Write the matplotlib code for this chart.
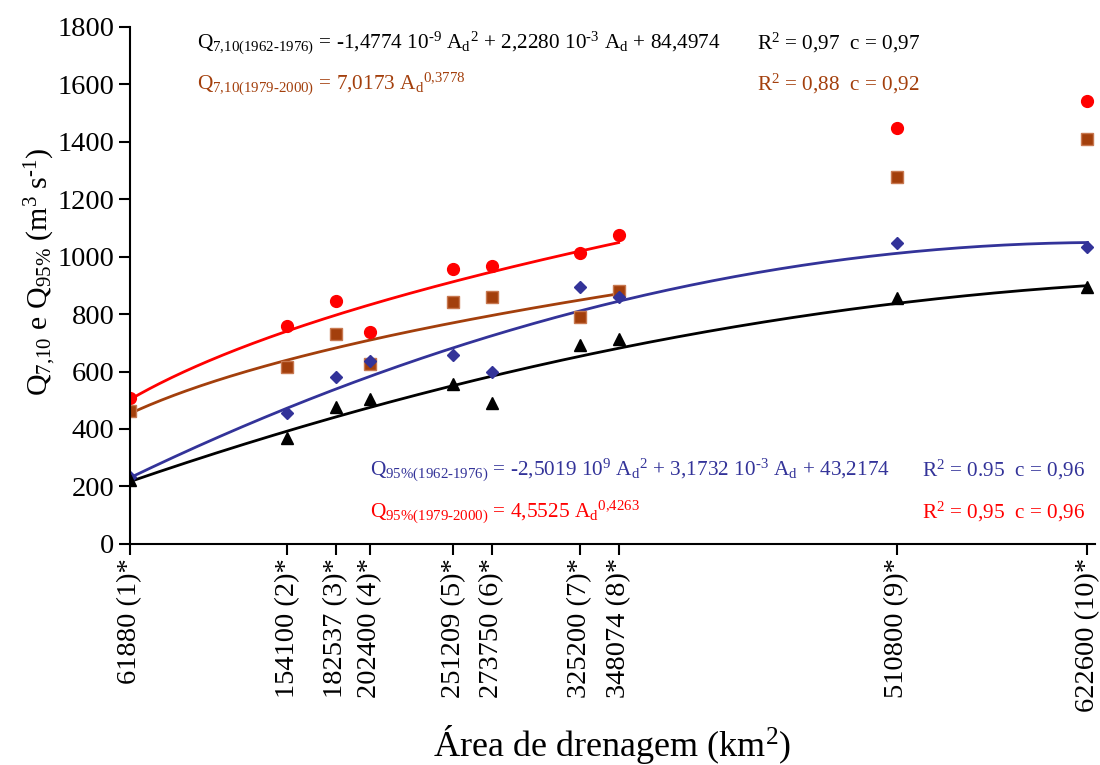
import numpy as np
import matplotlib
matplotlib.use("Agg")
import matplotlib.pyplot as plt

plt.rcParams['font.family'] = ['Liberation Serif', 'DejaVu Serif']
plt.rcParams['mathtext.fontset'] = 'custom'
plt.rcParams['mathtext.rm'] = 'Liberation Serif'
plt.rcParams['mathtext.it'] = 'Liberation Serif:italic'
plt.rcParams['mathtext.bf'] = 'Liberation Serif:bold'

# area de drenagem (km2) das estacoes
area = [61880, 154100, 182537, 202400, 251209, 273750, 325200, 348074, 510800, 622600]
estacao = [1, 2, 3, 4, 5, 6, 7, 8, 9, 10]

# vazoes observadas (m3/s)
q95_7900 = [509, 760, 847, 736, 957, 966, 1012, 1076, 1446, 1543]   # vermelho
q710_7900 = [461, 615, 730, 626, 841, 859, 790, 882, 1277, 1411]   # marrom
q95_6276 = [232, 455, 580, 638, 658, 597, 894, 859, 1047, 1033]    # azul
q710_6276 = [222, 370, 476, 504, 557, 490, 693, 714, 855, 894]     # preto

# coeficientes das regressoes
coef_q710_6276 = [-1.4774e-9, 2.2280e-3, 84.4974]
coef_q95_6276 = [-2.5019e-9, 3.1732e-3, 43.2174]
pot_q710_7900 = [7.0173, 0.3778]
pot_q95_7900 = [4.5525, 0.4263]

RED = '#FF0000'
BROWN = '#A33F0C'
BLUE = '#333399'
BLACK = '#000000'

W, H = 1100, 765
fig = plt.figure(figsize=(11, 7.65), dpi=100)
ax = fig.add_axes([0.118, 0.289, 0.877, 0.676])

a_all = np.linspace(area[0], area[-1], 300)
a_part = np.linspace(area[0], area[7], 200)

ax.plot(a_all, np.polyval(coef_q710_6276, a_all), color=BLACK, lw=2)
ax.plot(a_all, np.polyval(coef_q95_6276, a_all), color=BLUE, lw=2)
ax.plot(a_part, pot_q710_7900[0] * a_part ** pot_q710_7900[1], color=BROWN, lw=2)
ax.plot(a_part, pot_q95_7900[0] * a_part ** pot_q95_7900[1], color=RED, lw=2)

ax.plot(area, q95_7900, 'o', color=RED, ms=8.5, mec=RED)
ax.plot(area, q710_7900, 's', color=BROWN, ms=8, mec='#C87850', mew=1)
ax.plot(area, q95_6276, 'D', color=BLUE, ms=6.5, mec=BLUE)
ax.plot(area, q710_6276, '^', color=BLACK, ms=9, mec=BLACK)

ax.set_xlim(area[0], 626700)
ax.set_ylim(0, 1800)
ax.set_yticks(np.arange(0, 1801, 200))
ax.set_xticks(area)
ax.set_xticklabels([f'{a} ({e})*' for a, e in zip(area, estacao)], rotation=90)

for s in ['top', 'right']:
    ax.spines[s].set_visible(False)
for s in ['left', 'bottom']:
    ax.spines[s].set_linewidth(1.5)
ax.tick_params(axis='both', direction='out', length=8, width=1.5, labelsize=20.5)
ax.tick_params(axis='x', pad=2)
ax.tick_params(axis='y', pad=3)


def px(x, y, s, color, size=15.3, **kw):
    fig.text(x / W, 1 - y / H, s, fontsize=size, color=color, va='center', **kw)


px(41, 272, r'Q$_{7{,}10}$ e Q$_{95\%}$ (m$^3$ s$^{\text{-}1}$)', BLACK, size=21.5, rotation=90, ha='center')
px(612, 745, r'Área de drenagem (km$^2$)', BLACK, size=26, ha='center')

px(197, 43, r'Q$_{7{,}10(1962\text{-}1976)}$ = -1,4774 10$^{\text{-}9}$ A$_{\rm d}$$^2$ + 2,2280 10$^{\text{-}3}$ A$_{\rm d}$ + 84,4974', BLACK)
px(757, 43, r'R$^2$ = 0,97  c = 0,97', BLACK)
px(197, 84, r'Q$_{7{,}10(1979\text{-}2000)}$ = 7,0173 A$_{\rm d}$$^{0{,}3778}$', BROWN)
px(757, 84, r'R$^2$ = 0,88  c = 0,92', BROWN)
px(370, 470, r'Q$_{95\%(1962\text{-}1976)}$ = -2,5019 10$^9$ A$_{\rm d}$$^2$ + 3,1732 10$^{\text{-}3}$ A$_{\rm d}$ + 43,2174', BLUE)
px(922, 470, r'R$^2$ = 0.95  c = 0,96', BLUE)
px(370, 512, r'Q$_{95\%(1979\text{-}2000)}$ = 4,5525 A$_{\rm d}$$^{0{,}4263}$', RED)
px(922, 512, r'R$^2$ = 0,95  c = 0,96', RED)

fig.savefig('out.png', dpi=100)
